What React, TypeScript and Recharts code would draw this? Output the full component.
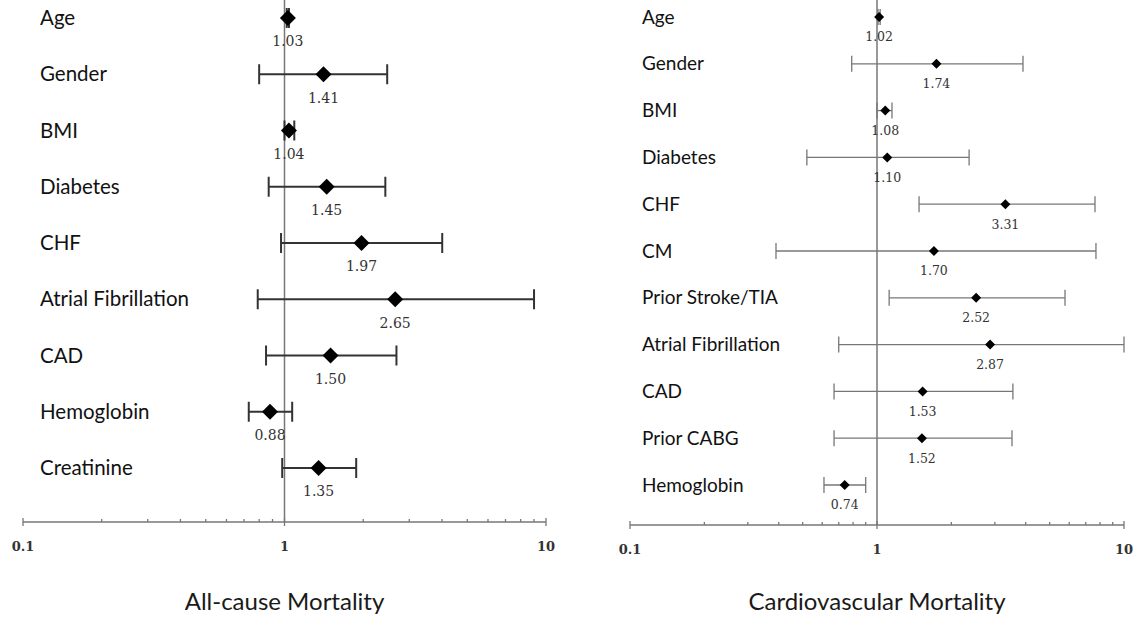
import React from 'react'
import {
  ScatterChart,
  Scatter,
  XAxis,
  YAxis,
  ErrorBar,
  LabelList,
  ReferenceLine,
} from 'recharts'

// All-cause mortality
const allCauseFactors = ['Age', 'Gender', 'BMI', 'Diabetes', 'CHF', 'Atrial Fibrillation', 'CAD', 'Hemoglobin', 'Creatinine']
const allCauseHR = [1.03, 1.41, 1.04, 1.45, 1.97, 2.65, 1.5, 0.88, 1.35]
const allCauseLow = [1.02, 0.8, 1.0, 0.87, 0.97, 0.79, 0.85, 0.73, 0.98]
const allCauseHigh = [1.04, 2.47, 1.09, 2.43, 4.01, 9.0, 2.68, 1.07, 1.88]

// Cardiovascular mortality
const cvFactors = ['Age', 'Gender', 'BMI', 'Diabetes', 'CHF', 'CM', 'Prior Stroke/TIA', 'Atrial Fibrillation', 'CAD', 'Prior CABG', 'Hemoglobin']
const cvHR = [1.02, 1.74, 1.08, 1.1, 3.31, 1.7, 2.52, 2.87, 1.53, 1.52, 0.74]
const cvLow = [1.01, 0.79, 1.0, 0.52, 1.48, 0.39, 1.12, 0.7, 0.67, 0.67, 0.61]
const cvHigh = [1.03, 3.9, 1.15, 2.36, 7.63, 7.7, 5.77, 10.0, 3.55, 3.52, 0.9]

const axisTicks = [0.1, 0.2, 0.3, 0.4, 0.5, 0.6, 0.7, 0.8, 0.9, 1, 2, 3, 4, 5, 6, 7, 8, 9, 10]
const majorTicks = [0.1, 1, 10]

const buildRows = (names: string[], hr: number[], lo: number[], hi: number[]) =>
  names.map((name, i) => ({ name, y: i, hr: hr[i], err: [hr[i] - lo[i], hi[i] - hr[i]] }))

const labelFont = 'Lato, "Open Sans", sans-serif'
const numFont = '"DejaVu Serif", "Liberation Serif", serif'

function LogTick(props: any) {
  const { x, y, payload } = props
  const major = majorTicks.includes(payload.value)
  return (
    <g>
      <line x1={x} x2={x} y1={major ? y - 4 : y - 3} y2={major ? y + 4 : y} stroke="#777" strokeWidth={1.3} />
      {major && (
        <text x={x} y={y + 29} textAnchor="middle" fontFamily={numFont} fontWeight={700} fontSize={13} fill="#333">
          {payload.value}
        </text>
      )}
    </g>
  )
}

interface PanelProps {
  names: string[]
  hr: number[]
  lo: number[]
  hi: number[]
  title: string
  left: number
  width: number
  yAxisWidth: number
  rightMargin: number
  axisHeight: number
  domain: [number, number]
  labelInset: number
  labelSize: number
  big: boolean
}

function ForestPanel(p: PanelProps) {
  const rows = buildRows(p.names, p.hr, p.lo, p.hi)
  const half = p.big ? 8 : 5
  const stroke = p.big ? '#333' : '#777'
  return (
    <div style={{ position: 'absolute', left: p.left, top: 0 }}>
      <ScatterChart width={p.width} height={618} margin={{ top: 0, right: p.rightMargin, bottom: 0, left: 0 }}>
        <XAxis
          type="number"
          dataKey="hr"
          scale="log"
          domain={[0.1, 10]}
          allowDataOverflow
          ticks={axisTicks}
          interval={0}
          tickSize={0}
          tickMargin={0}
          tickLine={false}
          axisLine={{ stroke: '#777', strokeWidth: 1.5 }}
          tick={<LogTick />}
          height={p.axisHeight}
          label={{
            value: p.title,
            position: 'insideBottom',
            offset: 8,
            style: { fontFamily: labelFont, fontSize: 24, fill: '#1a1a1a' },
          }}
        />
        <YAxis
          type="number"
          dataKey="y"
          domain={p.domain}
          reversed
          ticks={p.names.map((_, i) => i)}
          interval={0}
          width={p.yAxisWidth}
          axisLine={false}
          tickLine={false}
          tickSize={0}
          tickMargin={0}
          tick={(t: any) => (
            <text
              x={t.x + p.labelInset}
              y={t.y}
              dy="0.35em"
              textAnchor="start"
              fontFamily={labelFont}
              fontSize={p.labelSize}
              fill="#111"
            >
              {p.names[t.payload.value]}
            </text>
          )}
        />
        <ReferenceLine x={1} stroke="#777" strokeWidth={1.5} />
        <Scatter
          data={rows}
          isAnimationActive={false}
          shape={(s: any) => (
            <path
              d={`M${s.cx},${s.cy - half}L${s.cx + half},${s.cy}L${s.cx},${s.cy + half}L${s.cx - half},${s.cy}Z`}
              fill="#000"
            />
          )}
        >
          <ErrorBar
            dataKey="err"
            direction="x"
            width={p.big ? 10 : 8}
            stroke={stroke}
            strokeWidth={p.big ? 2 : 1.3}
          />
          <LabelList
            dataKey="hr"
            position="bottom"
            offset={p.big ? 14 : 11}
            formatter={(v: any) => Number(v).toFixed(2)}
            style={{ fontFamily: numFont, fontSize: p.big ? 14 : 12.5, fill: '#333' }}
          />
        </Scatter>
      </ScatterChart>
    </div>
  )
}

export default function App() {
  return (
    <div style={{ position: 'absolute', left: 0, top: 0, width: 1138, height: 618, background: '#fff' }}>
      <ForestPanel
        names={allCauseFactors}
        hr={allCauseHR}
        lo={allCauseLow}
        hi={allCauseHigh}
        title="All-cause Mortality"
        left={0}
        width={570}
        yAxisWidth={23}
        rightMargin={24}
        axisHeight={96}
        domain={[-0.32, 8.96]}
        labelInset={17}
        labelSize={20.5}
        big
      />
      <ForestPanel
        names={cvFactors}
        hr={cvHR}
        lo={cvLow}
        hi={cvHigh}
        title="Cardiovascular Mortality"
        left={570}
        width={568}
        yAxisWidth={60}
        rightMargin={14}
        axisHeight={93}
        domain={[-0.363, 10.855]}
        labelInset={12}
        labelSize={19}
        big={false}
      />
    </div>
  )
}
